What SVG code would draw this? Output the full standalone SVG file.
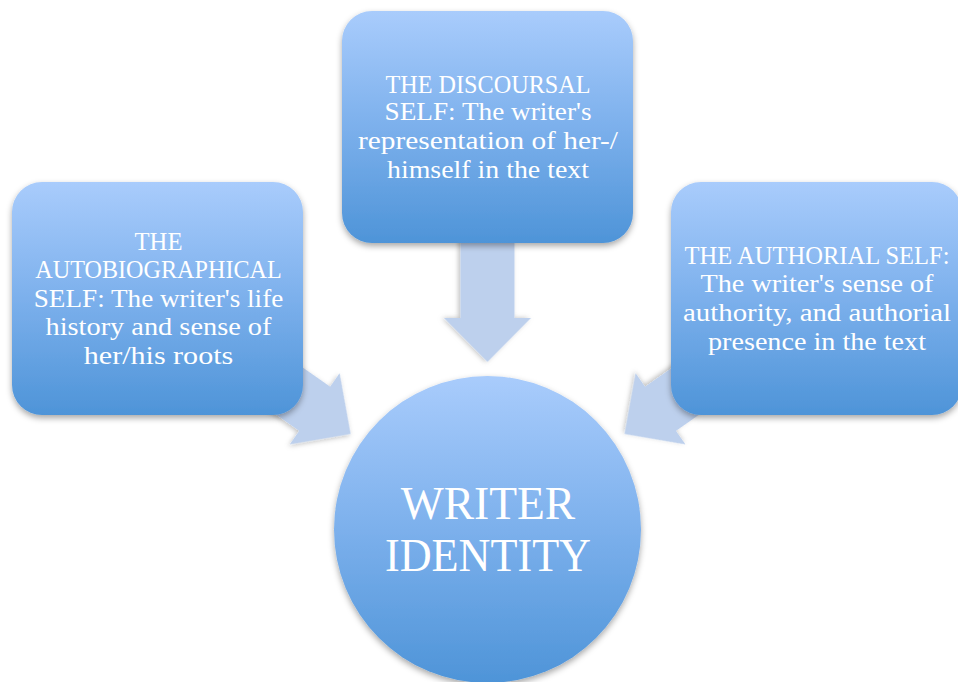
<svg xmlns="http://www.w3.org/2000/svg" width="958" height="682" viewBox="0 0 958 682">
  <defs>
    <linearGradient id="gBlue" x1="0" y1="0" x2="0" y2="1">
      <stop offset="0" stop-color="#a9ccfc"/>
      <stop offset="0.5" stop-color="#7cb0ec"/>
      <stop offset="1" stop-color="#4e94d8"/>
    </linearGradient>
    <filter id="shadow" x="-20%" y="-20%" width="140%" height="150%">
      <feDropShadow dx="0" dy="3" stdDeviation="3" flood-color="#000" flood-opacity="0.35"/>
    </filter>
    <filter id="ashadow" x="-20%" y="-20%" width="140%" height="150%">
      <feDropShadow dx="0" dy="2" stdDeviation="2.5" flood-color="#000" flood-opacity="0.25"/>
    </filter>
    <polygon id="arrowShape" points="0,0 -44,-43.5 -44,-27 -140,-27 -140,27 -44,27 -44,43.5"/>
  </defs>
  <style>
    .box { fill: url(#gBlue); filter: url(#shadow); }
    .arrow { fill: #bdd0ed; filter: url(#ashadow); }
    .t { font-family: "Liberation Serif", "Times New Roman", serif; font-size: 25px; fill: #ffffff; text-anchor: middle; }
    .big { font-family: "Liberation Serif", "Times New Roman", serif; font-size: 45.5px; fill: #ffffff; text-anchor: middle; }
  </style>
  <rect width="958" height="682" fill="#ffffff"/>

  <g id="connectors">
    <use href="#arrowShape" class="arrow" transform="translate(487.5,362) rotate(90)"/>
    <use href="#arrowShape" class="arrow" transform="translate(350.7,434) rotate(35)"/>
    <use href="#arrowShape" class="arrow" transform="translate(624.5,434) rotate(145)"/>
  </g>

  <g id="node-autobiographical">
    <rect class="box" x="12" y="182" width="291" height="233" rx="30" ry="30"/>
    <text class="t" x="158.5" y="249.8" textLength="48" lengthAdjust="spacingAndGlyphs">THE</text>
    <text class="t" x="158.5" y="277.5" textLength="246.5" lengthAdjust="spacingAndGlyphs">AUTOBIOGRAPHICAL</text>
    <text class="t" x="158.5" y="306.7" textLength="249.5" lengthAdjust="spacingAndGlyphs">SELF: The writer's life</text>
    <text class="t" x="158.5" y="335" textLength="226" lengthAdjust="spacingAndGlyphs">history and sense of</text>
    <text class="t" x="158.5" y="364.3" textLength="149.5" lengthAdjust="spacingAndGlyphs">her/his roots</text>
  </g>

  <g id="node-discoursal">
    <rect class="box" x="342" y="11" width="291" height="232" rx="30" ry="30"/>
    <text class="t" x="488" y="92.6" textLength="205" lengthAdjust="spacingAndGlyphs">THE DISCOURSAL</text>
    <text class="t" x="488" y="120.3" textLength="207" lengthAdjust="spacingAndGlyphs">SELF: The writer's</text>
    <text class="t" x="488" y="149.3" textLength="260" lengthAdjust="spacingAndGlyphs">representation of her-/</text>
    <text class="t" x="488" y="177.7" textLength="202" lengthAdjust="spacingAndGlyphs">himself in the text</text>
  </g>

  <g id="node-authorial">
    <rect class="box" x="671" y="182" width="291" height="233" rx="30" ry="30"/>
    <text class="t" x="817" y="264.3" textLength="265" lengthAdjust="spacingAndGlyphs">THE AUTHORIAL SELF:</text>
    <text class="t" x="817" y="292.3" textLength="233" lengthAdjust="spacingAndGlyphs">The writer's sense of</text>
    <text class="t" x="817" y="320.7" textLength="268" lengthAdjust="spacingAndGlyphs">authority, and authorial</text>
    <text class="t" x="817" y="350" textLength="218" lengthAdjust="spacingAndGlyphs">presence in the text</text>
  </g>

  <g id="node-writer-identity">
    <circle class="box" cx="487.5" cy="529.5" r="153.5"/>
    <text class="big" x="488" y="519.3" textLength="174.5" lengthAdjust="spacingAndGlyphs">WRITER</text>
    <text class="big" x="488" y="570.7" textLength="206" lengthAdjust="spacingAndGlyphs">IDENTITY</text>
  </g>
</svg>
